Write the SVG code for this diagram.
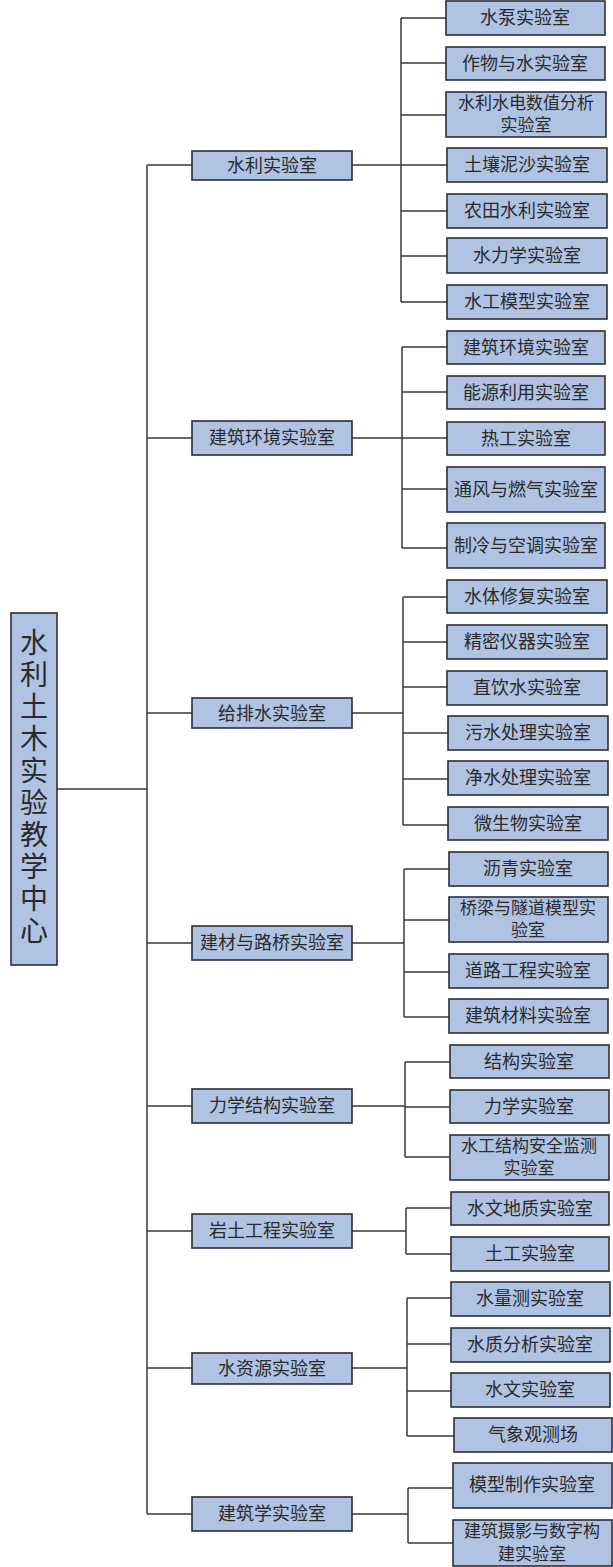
<svg xmlns="http://www.w3.org/2000/svg" width="613" height="1567" viewBox="0 0 613 1567">
<style>
.b{fill:#b0c3e3;stroke:#2c2f3a;stroke-width:1.6}
.t{font-family:"Noto Sans CJK SC","Liberation Sans",sans-serif;font-size:18px;fill:#2a2a2a;text-anchor:middle}
.t2{font-family:"Noto Sans CJK SC","Liberation Sans",sans-serif;font-size:17px;fill:#2a2a2a;text-anchor:middle}
.r{font-family:"Noto Sans CJK SC","Liberation Sans",sans-serif;font-size:28px;fill:#2a2a2a;writing-mode:vertical-rl;letter-spacing:4px}
.c{fill:none;stroke:#3a3a3a;stroke-width:1.5}
</style>
<rect width="613" height="1567" fill="#ffffff"/>
<g id="connectors" class="c">
<path d="M57 789H147M147 165V1514M147 165H192M147 438H192M147 713H192M147 943H192M147 1106H192M147 1231H192M147 1368H192M147 1514H192"/>
<path d="M352 165H401M401 18V302M401 18H446M401 63H446M401 115H446M401 165H447M401 211H447M401 256H447M401 302H447"/>
<path d="M352 438H402M402 347V548M402 347H447M402 392H447M402 438H447M402 489H447M402 548H447"/>
<path d="M352 713H403M403 597V825M403 597H447M403 642H447M403 687H447M403 733H448M403 779H448M403 825H448"/>
<path d="M352 943H404M404 869V1017M404 869H449M404 920H449M404 972H449M404 1017H449"/>
<path d="M352 1106H405M405 1062V1157M405 1062H450M405 1107H450M405 1157H450"/>
<path d="M352 1231H406M406 1208V1254M406 1208H451M406 1254H451"/>
<path d="M352 1368H407M407 1298V1436M407 1298H451M407 1344H451M407 1391H451M407 1436H454"/>
<path d="M352 1514H408M408 1488V1543M408 1488H453M408 1543H453"/>
</g>
<g id="root"><rect class="b" x="11" y="613" width="46" height="352"/>
<text class="r" x="34" y="628">水利土木实验教学中心</text>
</g>
<g id="mid-1"><rect class="b" x="192" y="151" width="160" height="29"/><text class="t" x="272" y="172">水利实验室</text></g>
<g id="mid-2"><rect class="b" x="192" y="421" width="160" height="34"/><text class="t" x="272" y="444">建筑环境实验室</text></g>
<g id="mid-3"><rect class="b" x="192" y="698" width="160" height="30"/><text class="t" x="272" y="720">给排水实验室</text></g>
<g id="mid-4"><rect class="b" x="192" y="926" width="160" height="34"/><text class="t" x="272" y="949">建材与路桥实验室</text></g>
<g id="mid-5"><rect class="b" x="192" y="1089" width="160" height="34"/><text class="t" x="272" y="1112">力学结构实验室</text></g>
<g id="mid-6"><rect class="b" x="192" y="1214" width="160" height="34"/><text class="t" x="272" y="1237">岩土工程实验室</text></g>
<g id="mid-7"><rect class="b" x="192" y="1353" width="160" height="31"/><text class="t" x="272" y="1375">水资源实验室</text></g>
<g id="mid-8"><rect class="b" x="192" y="1497" width="160" height="34"/><text class="t" x="272" y="1520">建筑学实验室</text></g>
<g id="l1"><rect class="b" x="446" y="1" width="159" height="34"/><text class="t" x="525" y="24">水泵实验室</text></g>
<g id="l2"><rect class="b" x="446" y="47" width="159" height="33"/><text class="t" x="525" y="70">作物与水实验室</text></g>
<g id="l3"><rect class="b" x="446" y="92" width="160" height="45"/><text class="t2" x="526" y="109">水利水电数值分析</text><text class="t2" x="526" y="131">实验室</text></g>
<g id="l4"><rect class="b" x="447" y="148" width="160" height="34"/><text class="t" x="527" y="171">土壤泥沙实验室</text></g>
<g id="l5"><rect class="b" x="447" y="194" width="160" height="34"/><text class="t" x="527" y="217">农田水利实验室</text></g>
<g id="l6"><rect class="b" x="447" y="238" width="160" height="35"/><text class="t" x="527" y="262">水力学实验室</text></g>
<g id="l7"><rect class="b" x="447" y="285" width="160" height="34"/><text class="t" x="527" y="308">水工模型实验室</text></g>
<g id="l8"><rect class="b" x="447" y="331" width="158" height="33"/><text class="t" x="526" y="354">建筑环境实验室</text></g>
<g id="l9"><rect class="b" x="447" y="376" width="158" height="33"/><text class="t" x="526" y="399">能源利用实验室</text></g>
<g id="l10"><rect class="b" x="447" y="422" width="158" height="33"/><text class="t" x="526" y="445">热工实验室</text></g>
<g id="l11"><rect class="b" x="447" y="467" width="158" height="45"/><text class="t" x="526" y="496">通风与燃气实验室</text></g>
<g id="l12"><rect class="b" x="447" y="523" width="158" height="45"/><text class="t" x="526" y="552">制冷与空调实验室</text></g>
<g id="l13"><rect class="b" x="447" y="580" width="160" height="33"/><text class="t" x="527" y="603">水体修复实验室</text></g>
<g id="l14"><rect class="b" x="447" y="625" width="160" height="34"/><text class="t" x="527" y="648">精密仪器实验室</text></g>
<g id="l15"><rect class="b" x="447" y="671" width="160" height="34"/><text class="t" x="527" y="694">直饮水实验室</text></g>
<g id="l16"><rect class="b" x="448" y="716" width="160" height="34"/><text class="t" x="528" y="739">污水处理实验室</text></g>
<g id="l17"><rect class="b" x="448" y="761" width="160" height="34"/><text class="t" x="528" y="784">净水处理实验室</text></g>
<g id="l18"><rect class="b" x="448" y="807" width="160" height="33"/><text class="t" x="528" y="830">微生物实验室</text></g>
<g id="l19"><rect class="b" x="449" y="852" width="159" height="34"/><text class="t" x="528" y="875">沥青实验室</text></g>
<g id="l20"><rect class="b" x="449" y="897" width="159" height="45"/><text class="t2" x="528" y="914">桥梁与隧道模型实</text><text class="t2" x="528" y="936">验室</text></g>
<g id="l21"><rect class="b" x="449" y="954" width="159" height="34"/><text class="t" x="528" y="977">道路工程实验室</text></g>
<g id="l22"><rect class="b" x="449" y="999" width="159" height="34"/><text class="t" x="528" y="1022">建筑材料实验室</text></g>
<g id="l23"><rect class="b" x="450" y="1045" width="159" height="33"/><text class="t" x="529" y="1068">结构实验室</text></g>
<g id="l24"><rect class="b" x="450" y="1090" width="159" height="33"/><text class="t" x="529" y="1113">力学实验室</text></g>
<g id="l25"><rect class="b" x="450" y="1135" width="159" height="45"/><text class="t2" x="529" y="1152">水工结构安全监测</text><text class="t2" x="529" y="1174">实验室</text></g>
<g id="l26"><rect class="b" x="451" y="1192" width="158" height="33"/><text class="t" x="530" y="1215">水文地质实验室</text></g>
<g id="l27"><rect class="b" x="451" y="1237" width="158" height="34"/><text class="t" x="530" y="1260">土工实验室</text></g>
<g id="l28"><rect class="b" x="451" y="1282" width="159" height="34"/><text class="t" x="530" y="1305">水量测实验室</text></g>
<g id="l29"><rect class="b" x="451" y="1328" width="159" height="34"/><text class="t" x="530" y="1351">水质分析实验室</text></g>
<g id="l30"><rect class="b" x="451" y="1373" width="159" height="34"/><text class="t" x="530" y="1396">水文实验室</text></g>
<g id="l31"><rect class="b" x="454" y="1418" width="158" height="34"/><text class="t" x="533" y="1441">气象观测场</text></g>
<g id="l32"><rect class="b" x="453" y="1463" width="159" height="45"/><text class="t" x="532" y="1491">模型制作实验室</text></g>
<g id="l33"><rect class="b" x="453" y="1520" width="159" height="46"/><text class="t2" x="532" y="1537">建筑摄影与数字构</text><text class="t2" x="532" y="1560">建实验室</text></g>
</svg>
